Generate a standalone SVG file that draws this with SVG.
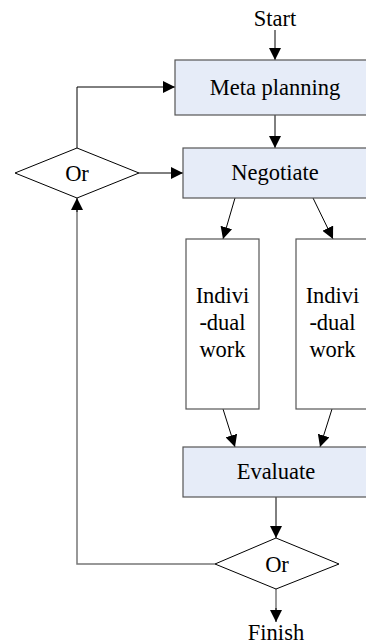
<svg xmlns="http://www.w3.org/2000/svg" width="366" height="644" viewBox="0 0 366 644">
<defs>
<marker id="ah" markerWidth="12" markerHeight="12" viewBox="0 0 12 12" refX="12" refY="6" orient="auto" markerUnits="userSpaceOnUse">
<path d="M0,0 L12,6 L0,12 Z" fill="#000"/>
</marker>
<style>
.box{fill:#E6ECF8;stroke:#555;stroke-width:1.2}
.wbox{fill:#fff;stroke:#555;stroke-width:1.2}
.dia{fill:#fff;stroke:#000;stroke-width:1}
.c{fill:none;stroke:#000;stroke-width:1}
.g{fill:none;stroke:#777;stroke-width:1.5}
</style>
</defs>
<rect width="366" height="644" fill="#fff"/>
<g id="connectors">
<line class="c" x1="275" y1="30" x2="275" y2="60" marker-end="url(#ah)"/>
<line class="c" x1="275" y1="115" x2="275" y2="148" marker-end="url(#ah)"/>
<line class="c" x1="139" y1="173" x2="183" y2="173" marker-end="url(#ah)"/>
<polyline class="c" points="77,148 77,87 175,87" marker-end="url(#ah)"/>
<line class="c" x1="235" y1="198" x2="223" y2="239" marker-end="url(#ah)"/>
<line class="c" x1="313" y1="198" x2="333" y2="239" marker-end="url(#ah)"/>
<line class="c" x1="223" y1="409" x2="235" y2="447" marker-end="url(#ah)"/>
<line class="c" x1="332" y1="409" x2="320" y2="447" marker-end="url(#ah)"/>
<line class="c" x1="276" y1="497" x2="276" y2="538" marker-end="url(#ah)"/>
<line class="g" x1="276" y1="589" x2="276" y2="613"/>
<line class="c" x1="276" y1="608" x2="276" y2="622" marker-end="url(#ah)"/>
<polyline class="g" points="215,564 77,564 77,210"/>
<line class="c" x1="77" y1="212" x2="77" y2="198" marker-end="url(#ah)"/>
</g>
<g font-family="Liberation Serif, Times New Roman, serif" font-size="22.5" fill="#000" text-anchor="middle">
<g id="start"><text x="275" y="26">Start</text></g>
<g id="meta"><rect class="box" x="175" y="60" width="200" height="55"/><text x="275" y="95">Meta planning</text></g>
<g id="or1"><polygon class="dia" points="15,173 77,148 139,173 77,198"/><text x="77" y="181">Or</text></g>
<g id="negotiate"><rect class="box" x="183" y="148" width="190" height="50"/><text x="275" y="180">Negotiate</text></g>
<g id="ind1"><rect class="wbox" x="186" y="239" width="73" height="170"/><text x="222.5" y="303">Indivi</text><text x="222.5" y="330">-dual</text><text x="222.5" y="357">work</text></g>
<g id="ind2"><rect class="wbox" x="296" y="239" width="73" height="170"/><text x="332.5" y="303">Indivi</text><text x="332.5" y="330">-dual</text><text x="332.5" y="357">work</text></g>
<g id="evaluate"><rect class="box" x="183" y="447" width="190" height="50"/><text x="276" y="479">Evaluate</text></g>
<g id="or2"><polygon class="dia" points="215,564 276,538 339,564 276,589"/><text x="277" y="572">Or</text></g>
<g id="finish"><text x="276" y="640">Finish</text></g>
</g>
</svg>
